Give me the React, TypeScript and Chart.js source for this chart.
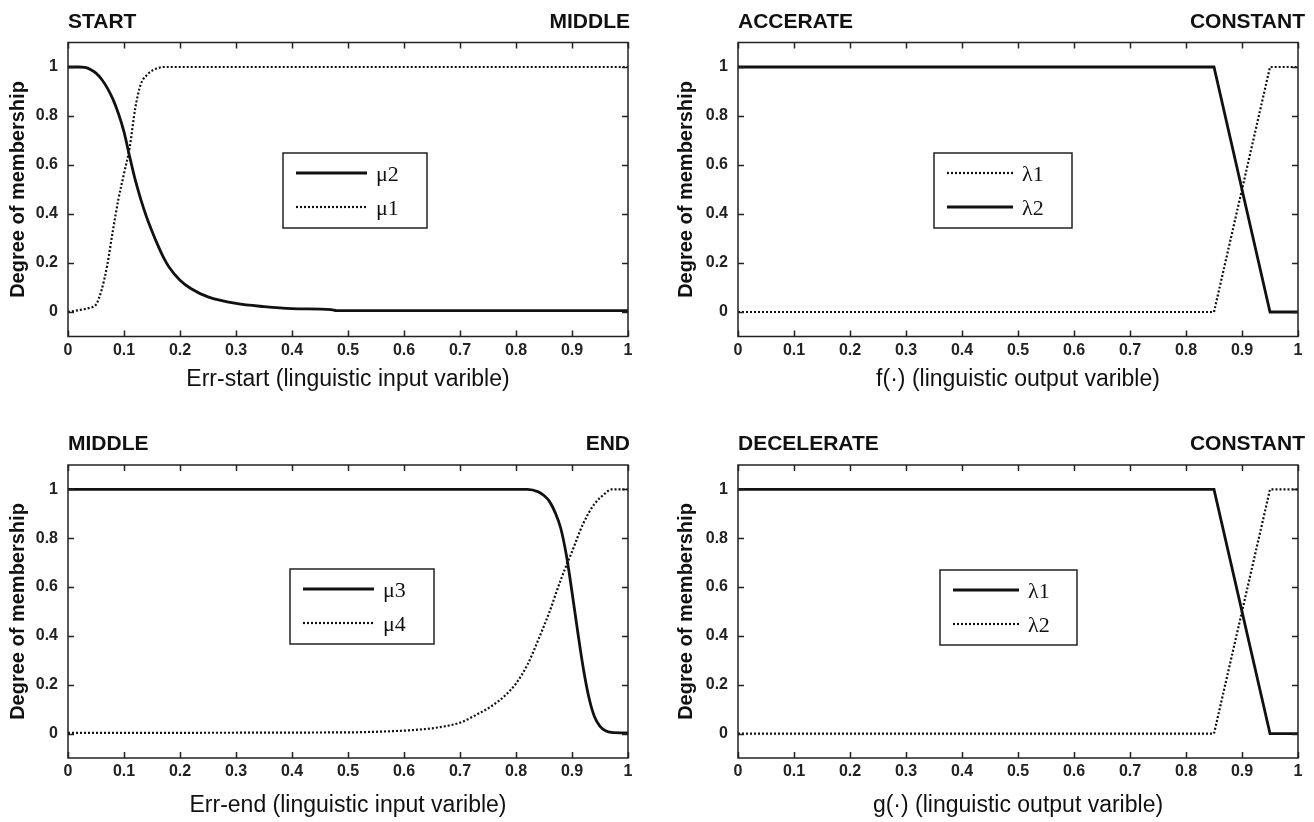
import React, { useEffect, useRef } from 'react';
import { Chart, registerables } from 'chart.js';

Chart.register(...registerables);

// ---------- data ----------
const X_TICKS = [0, 0.1, 0.2, 0.3, 0.4, 0.5, 0.6, 0.7, 0.8, 0.9, 1];
const Y_TICKS = [0, 0.2, 0.4, 0.6, 0.8, 1];

// Panel 1: Err-start
const mu2X = [0, 0.02, 0.03, 0.04, 0.05, 0.06, 0.07, 0.08, 0.09, 0.1, 0.11, 0.12, 0.13, 0.14, 0.15, 0.16, 0.17, 0.18, 0.2, 0.22, 0.25, 0.3, 0.35, 0.4, 0.47, 0.48, 1];
const mu2Y = [1, 1, 0.998, 0.99, 0.975, 0.95, 0.915, 0.87, 0.81, 0.735, 0.635, 0.54, 0.46, 0.39, 0.33, 0.275, 0.225, 0.185, 0.13, 0.095, 0.062, 0.035, 0.022, 0.014, 0.01, 0.006, 0.006];
const mu1X = [0, 0.02, 0.04, 0.05, 0.06, 0.07, 0.08, 0.09, 0.1, 0.11, 0.12, 0.13, 0.14, 0.15, 0.16, 0.17, 0.18, 1];
const mu1Y = [0, 0.008, 0.018, 0.03, 0.09, 0.19, 0.33, 0.46, 0.565, 0.67, 0.83, 0.93, 0.965, 0.985, 0.995, 1, 1, 1];

// Panel 2: f(.)
const fX = [0, 0.85, 0.95, 1];
const fLambda1 = [0, 0, 1, 1];
const fLambda2 = [1, 1, 0, 0];

// Panel 3: Err-end
const mu3X = [0, 0.82, 0.84, 0.85, 0.86, 0.87, 0.88, 0.89, 0.9, 0.91, 0.92, 0.93, 0.94, 0.95, 0.96, 0.97, 1];
const mu3Y = [1, 1, 0.99, 0.975, 0.95, 0.905, 0.84, 0.73, 0.58, 0.42, 0.27, 0.15, 0.07, 0.03, 0.012, 0.005, 0.003];
const mu4X = [0, 0.5, 0.58, 0.62, 0.66, 0.7, 0.73, 0.76, 0.78, 0.8, 0.82, 0.84, 0.86, 0.88, 0.9, 0.92, 0.94, 0.96, 0.97, 1];
const mu4Y = [0.003, 0.005, 0.01, 0.015, 0.025, 0.045, 0.078, 0.118, 0.155, 0.205, 0.28, 0.385, 0.5, 0.63, 0.745, 0.86, 0.94, 0.985, 1, 1];

// Panel 4: g(.)
const gX = [0, 0.85, 0.95, 1];
const gLambda1 = [1, 1, 0, 0];
const gLambda2 = [0, 0, 1, 1];

// ---------- styling ----------
const INK = '#111111';
const AXIS = '#222222';
const SANS = "'Liberation Sans', Arial, Helvetica, sans-serif";
const NARROW = "'Liberation Sans Narrow', 'Arial Narrow', 'Liberation Sans', Arial, sans-serif";
const SERIF = "'Liberation Serif', 'Times New Roman', serif";

type Series = { label: string; xs: number[]; ys: number[]; dotted: boolean; smooth: boolean };
type Panel = {
  left: number; top: number; w: number; h: number;
  yAxisWidth: number; padRight: number; padTop: number; xAxisHeight: number;
  xTitlePadBottom: number; yTitlePadTop: number;
  leftTitle: string; rightTitle: string; rightShift: number; xTitle: string;
  series: Series[];
  legend: { x: number; y: number; w: number; h: number; lineOff: number; lineLen: number };
};

const PANELS: Panel[] = [
  {
    left: 0, top: 0, w: 657, h: 411,
    yAxisWidth: 68, padRight: 29, padTop: 42.5, xAxisHeight: 74.5,
    xTitlePadBottom: 17.2, yTitlePadTop: 6,
    leftTitle: 'START', rightTitle: 'MIDDLE', rightShift: 2,
    xTitle: 'Err-start (linguistic input varible)',
    series: [
      { label: 'μ2', xs: mu2X, ys: mu2Y, dotted: false, smooth: true },
      { label: 'μ1', xs: mu1X, ys: mu1Y, dotted: true, smooth: true },
    ],
    legend: { x: 283, y: 153, w: 144, h: 75, lineOff: 13, lineLen: 71 },
  },
  {
    left: 657, top: 0, w: 657, h: 411,
    yAxisWidth: 81, padRight: 16, padTop: 42.5, xAxisHeight: 74.5,
    xTitlePadBottom: 17.2, yTitlePadTop: 17,
    leftTitle: 'ACCERATE', rightTitle: 'CONSTANT', rightShift: 7,
    xTitle: 'f(·) (linguistic output varible)',
    series: [
      { label: 'λ1', xs: fX, ys: fLambda1, dotted: true, smooth: false },
      { label: 'λ2', xs: fX, ys: fLambda2, dotted: false, smooth: false },
    ],
    legend: { x: 277, y: 153, w: 138, h: 75, lineOff: 13, lineLen: 66 },
  },
  {
    left: 0, top: 411, w: 657, h: 411,
    yAxisWidth: 68, padRight: 29, padTop: 54, xAxisHeight: 64,
    xTitlePadBottom: 2.2, yTitlePadTop: 6,
    leftTitle: 'MIDDLE', rightTitle: 'END', rightShift: 2,
    xTitle: 'Err-end (linguistic input varible)',
    series: [
      { label: 'μ3', xs: mu3X, ys: mu3Y, dotted: false, smooth: true },
      { label: 'μ4', xs: mu4X, ys: mu4Y, dotted: true, smooth: true },
    ],
    legend: { x: 290, y: 158, w: 144, h: 75, lineOff: 13, lineLen: 71 },
  },
  {
    left: 657, top: 411, w: 657, h: 411,
    yAxisWidth: 81, padRight: 16, padTop: 54, xAxisHeight: 64,
    xTitlePadBottom: 2.2, yTitlePadTop: 17,
    leftTitle: 'DECELERATE', rightTitle: 'CONSTANT', rightShift: 7,
    xTitle: 'g(·) (linguistic output varible)',
    series: [
      { label: 'λ1', xs: gX, ys: gLambda1, dotted: false, smooth: false },
      { label: 'λ2', xs: gX, ys: gLambda2, dotted: true, smooth: false },
    ],
    legend: { x: 283, y: 159, w: 137, h: 75, lineOff: 13, lineLen: 66 },
  },
];

const TICK_LEN = 6;

const decoPlugin = {
  id: 'deco',
  afterDatasetsDraw(chart: any, _args: any, opts: any) {
    const { ctx, chartArea: a } = chart;
    const xs = chart.scales.x;
    const ys = chart.scales.y;
    ctx.save();
    ctx.strokeStyle = AXIS;
    ctx.lineWidth = 1.5;
    ctx.strokeRect(a.left, a.top, a.right - a.left, a.bottom - a.top);
    ctx.beginPath();
    for (const t of xs.ticks) {
      const px = Math.round(xs.getPixelForValue(t.value)) + 0.5;
      ctx.moveTo(px, a.bottom); ctx.lineTo(px, a.bottom - TICK_LEN);
      ctx.moveTo(px, a.top); ctx.lineTo(px, a.top + TICK_LEN);
    }
    for (const t of ys.ticks) {
      const py = Math.round(ys.getPixelForValue(t.value)) + 0.5;
      ctx.moveTo(a.left, py); ctx.lineTo(a.left + TICK_LEN, py);
      ctx.moveTo(a.right, py); ctx.lineTo(a.right - TICK_LEN, py);
    }
    ctx.stroke();

    // top titles
    ctx.fillStyle = INK;
    ctx.font = `bold 21px ${SANS}`;
    ctx.textBaseline = 'middle';
    ctx.textAlign = 'left';
    ctx.fillText(opts.leftTitle, a.left, a.top - 20.5);
    ctx.textAlign = 'right';
    ctx.fillText(opts.rightTitle, a.right + opts.rightShift, a.top - 20.5);

    // legend box
    const L = opts.legend;
    ctx.fillStyle = '#ffffff';
    ctx.fillRect(L.x, L.y, L.w, L.h);
    ctx.strokeStyle = AXIS;
    ctx.lineWidth = 1.5;
    ctx.strokeRect(L.x, L.y, L.w, L.h);
    const rows = [L.y + 20, L.y + 54];
    chart.data.datasets.forEach((ds: any, i: number) => {
      const y = rows[i];
      ctx.save();
      ctx.strokeStyle = INK;
      ctx.lineWidth = ds.borderWidth;
      ctx.setLineDash(ds.borderDash || []);
      ctx.beginPath();
      ctx.moveTo(L.x + L.lineOff, y);
      ctx.lineTo(L.x + L.lineOff + L.lineLen, y);
      ctx.stroke();
      ctx.restore();
      ctx.fillStyle = INK;
      ctx.font = `22px ${SERIF}`;
      ctx.textAlign = 'left';
      ctx.textBaseline = 'middle';
      ctx.fillText(ds.label, L.x + L.lineOff + L.lineLen + 9, y + 2);
    });
    ctx.restore();
  },
};

function PanelChart({ p }: { p: Panel }) {
  const ref = useRef<HTMLCanvasElement | null>(null);
  useEffect(() => {
    if (!ref.current) return;
    const chart = new Chart(ref.current, {
      type: 'line',
      data: {
        datasets: p.series.map((s) => ({
          label: s.label,
          data: s.xs.map((x, i) => ({ x, y: s.ys[i] })),
          borderColor: INK,
          borderWidth: s.dotted ? 2.2 : 2.8,
          borderDash: s.dotted ? [2, 2] : [],
          pointRadius: 0,
          tension: 0,
          cubicInterpolationMode: s.smooth ? 'monotone' : 'default',
          fill: false,
        })),
      },
      options: {
        responsive: false,
        maintainAspectRatio: false,
        animation: false,
        events: [],
        layout: { padding: { left: 0, right: p.padRight, top: p.padTop, bottom: 0 } },
        plugins: {
          legend: { display: false },
          tooltip: { enabled: false },
          deco: { leftTitle: p.leftTitle, rightTitle: p.rightTitle, rightShift: p.rightShift, legend: p.legend },
        } as any,
        scales: {
          x: {
            type: 'linear',
            min: 0,
            max: 1,
            afterBuildTicks: (s: any) => { s.ticks = X_TICKS.map((v) => ({ value: v })); },
            afterFit: (s: any) => { s.height = p.xAxisHeight; },
            grid: { display: false, drawTicks: false },
            border: { display: false },
            ticks: {
              padding: 4,
              autoSkip: false,
              maxRotation: 0,
              color: AXIS,
              font: { family: NARROW, size: 16, weight: 'bold' },
              callback: (v: any) => String(v),
            },
            title: {
              display: true,
              text: p.xTitle,
              color: INK,
              font: { family: SANS, size: 23 },
              padding: { top: 0, bottom: p.xTitlePadBottom },
            },
          },
          y: {
            type: 'linear',
            min: -0.1,
            max: 1.1,
            afterBuildTicks: (s: any) => { s.ticks = Y_TICKS.map((v) => ({ value: v })); },
            afterFit: (s: any) => { s.width = p.yAxisWidth; },
            grid: { display: false, drawTicks: false },
            border: { display: false },
            ticks: {
              padding: 10,
              autoSkip: false,
              color: AXIS,
              font: { family: NARROW, size: 16, weight: 'bold' },
              callback: (v: any) => String(v),
            },
            title: {
              display: true,
              text: 'Degree of membership',
              color: INK,
              font: { family: SANS, size: 20, weight: 'bold' },
              padding: { top: p.yTitlePadTop, bottom: 0 },
            },
          },
        },
      } as any,
      plugins: [decoPlugin as any],
    });
    return () => chart.destroy();
  }, [p]);
  return (
    <div style={{ position: 'absolute', left: p.left, top: p.top, width: p.w, height: p.h }}>
      <canvas ref={ref} width={p.w} height={p.h} style={{ display: 'block', width: p.w, height: p.h }} />
    </div>
  );
}

export default function App() {
  return (
    <div style={{ position: 'absolute', left: 0, top: 0, width: 1314, height: 822, background: '#ffffff', overflow: 'hidden' }}>
      {PANELS.map((p, i) => (
        <PanelChart key={i} p={p} />
      ))}
    </div>
  );
}
